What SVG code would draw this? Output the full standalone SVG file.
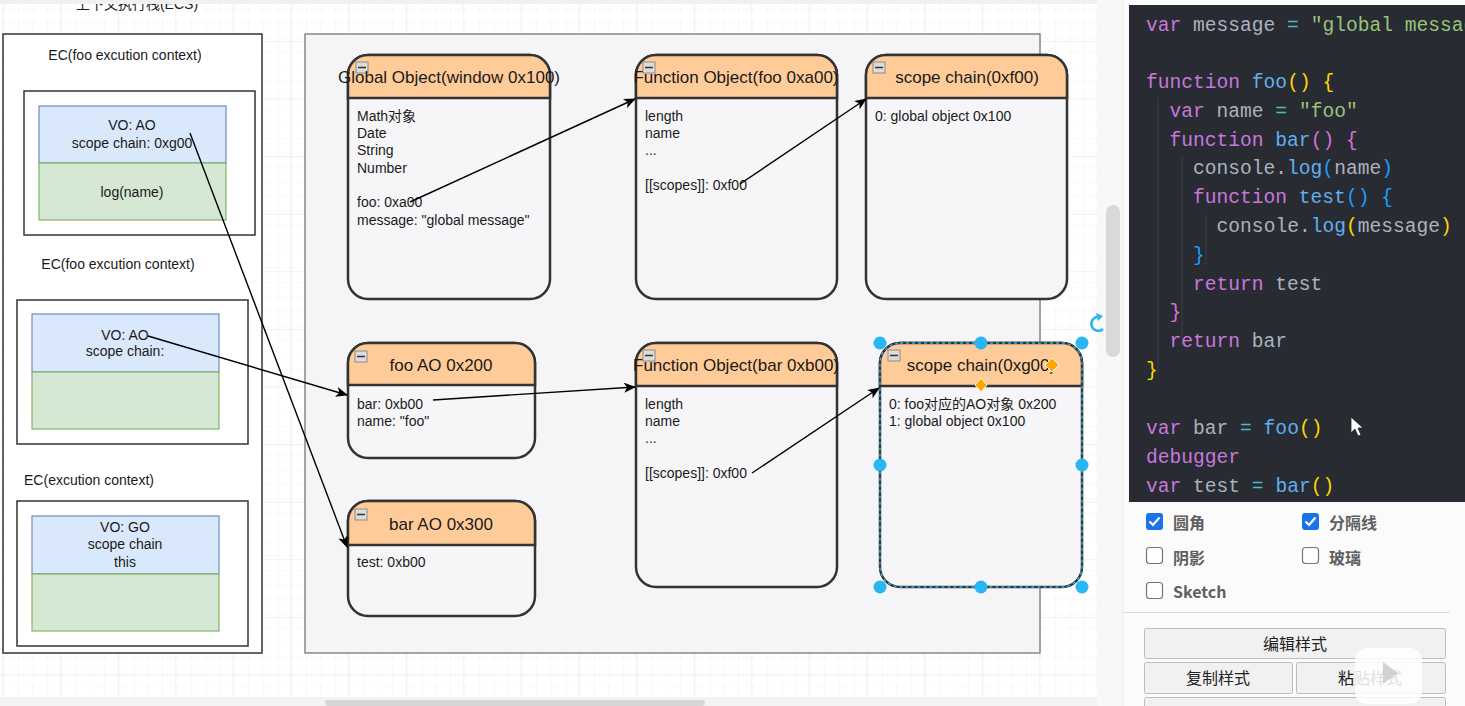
<svg xmlns="http://www.w3.org/2000/svg" width="1465" height="706" viewBox="0 0 1465 706">
<defs>
  <pattern id="minor" width="14.4" height="14.4" patternUnits="userSpaceOnUse" x="2.4" y="12.1">
    <path d="M14.4 0V14.4M0 14.4H14.4" fill="none" stroke="#f2f2f2" stroke-width="1"/>
  </pattern>
  <pattern id="major" width="57.6" height="57.6" patternUnits="userSpaceOnUse" x="2.4" y="40.9">
    <rect width="57.6" height="57.6" fill="url(#minor)"/>
    <path d="M0 0V57.6M0 0H57.6" fill="none" stroke="#e4e4e4" stroke-width="1"/>
  </pattern>
  <marker id="arr" viewBox="0 0 12 10" refX="11" refY="5" markerWidth="12" markerHeight="10" markerUnits="userSpaceOnUse" orient="auto">
    <path d="M0 0L12 5L0 10L3 5Z" fill="#000"/>
  </marker>
  <clipPath id="codeclip"><rect x="1129" y="5" width="336" height="497"/></clipPath>
  <style>
    .t{font-family:"Liberation Sans",Arial,"Noto Sans CJK SC",sans-serif;fill:#1a1a1a}
    .ec{font-size:14px}
    .c{text-anchor:middle}
    .hd{font-size:17px;text-anchor:middle}
    .bd{font-size:14px}
    .frame{fill:#fff;stroke:#333;stroke-width:1.5}
    .vo{fill:#dae8fc;stroke:#6c8ebf;stroke-width:1.2}
    .gr{fill:#d5e8d4;stroke:#82b366;stroke-width:1.2}
    .body{fill:#f6f6f8;stroke:#333;stroke-width:2.5}
    .head{fill:#ffcc99;stroke:#333;stroke-width:2.5}
    .mini{fill:#dcdcdc;stroke:#8a8a8a;stroke-width:1}
    .conn{fill:none;stroke:#000;stroke-width:1.4;marker-end:url(#arr)}
    .code{font-family:"Liberation Mono","DejaVu Sans Mono",monospace;font-size:19.6px;fill:#abb2bf;white-space:pre}
    .k{fill:#c678dd}.f{fill:#61afef}.s{fill:#98c379}.o{fill:#56b6c2}
    .y{fill:#ffd700}.p{fill:#da70d6}.b{fill:#179fff}
    .ui{font-family:"Noto Sans CJK SC","Liberation Sans",sans-serif;font-size:16px}
    .lbl{font-weight:bold;fill:#5f5f5f}
    .btn{fill:#f1f1f1;stroke:#bdbdbd;stroke-width:1}
    .h{fill:#29b6f2}
  </style>
</defs>

<!-- canvas background -->
<rect x="0" y="0" width="1465" height="706" fill="#ffffff"/>
<rect x="0" y="0" width="1097" height="697" fill="url(#major)"/>
<text class="t" x="137" y="9" font-size="14" text-anchor="middle">上下文执行栈(ECS)</text>
<rect x="0" y="0" width="1097" height="4" fill="#f0f0f0"/>
<rect x="0" y="697" width="1097" height="9" fill="#f3f3f3"/>
<rect x="325" y="700" width="380" height="6" rx="3" fill="#d6d6d6"/>

<!-- right side UI background -->
<rect x="1097" y="0" width="26" height="706" fill="#f8f8f8"/>
<rect x="1106" y="205" width="14" height="152" rx="7" fill="#d9d9d9"/>
<path d="M1123 0V706" stroke="#e2e2e2" stroke-width="1"/>
<rect x="1123.5" y="0" width="342" height="706" fill="#fbfbfc"/>

<!-- execution context stack -->
<g id="ecs">
  <rect class="frame" x="3" y="34" width="259" height="619"/>
</g>
<g id="ec-foo-1">
  <text class="t ec c" x="125" y="60">EC(foo excution context)</text>
  <rect class="frame" x="24" y="91" width="231" height="144"/>
  <rect class="vo" x="39" y="106" width="187" height="57"/>
  <rect class="gr" x="39" y="163" width="187" height="57"/>
  <text class="t ec c" x="132" y="130">VO: AO</text>
  <text class="t ec c" x="132" y="148">scope chain: 0xg00</text>
  <text class="t ec c" x="132" y="197">log(name)</text>
</g>
<g id="ec-foo-2">
  <text class="t ec c" x="118" y="269">EC(foo excution context)</text>
  <rect class="frame" x="17" y="300" width="231" height="144"/>
  <rect class="vo" x="32" y="314" width="187" height="58"/>
  <rect class="gr" x="32" y="372" width="187" height="57"/>
  <text class="t ec c" x="125" y="340">VO: AO</text>
  <text class="t ec c" x="125" y="356">scope chain:</text>
</g>
<g id="ec-global">
  <text class="t ec c" x="89" y="485">EC(excution context)</text>
  <rect class="frame" x="17" y="501" width="231" height="145"/>
  <rect class="vo" x="32" y="516" width="187" height="58"/>
  <rect class="gr" x="32" y="574" width="187" height="57"/>
  <text class="t ec c" x="125" y="532">VO: GO</text>
  <text class="t ec c" x="125" y="549">scope chain</text>
  <text class="t ec c" x="125" y="567">this</text>
</g>

<!-- heap container -->
<g id="heap">
  <rect x="305" y="34" width="735" height="619" fill="#f5f5f7" stroke="#6b6b6b" stroke-width="1.2"/>
</g>

<g id="global-object">
  <rect class="body" x="348" y="55" width="202" height="244" rx="20"/>
  <path class="head" d="M348 98V75A20 20 0 0 1 368 55H530A20 20 0 0 1 550 75V98Z"/>
  <rect class="mini" x="356" y="62" width="12" height="11"/><path d="M358 67.5H366" stroke="#333" stroke-width="1.5"/>
  <text class="t hd" x="449" y="83">Global Object(window 0x100)</text>
  <text class="t bd" x="357" y="121">Math对象</text>
  <text class="t bd" x="357" y="138">Date</text>
  <text class="t bd" x="357" y="155">String</text>
  <text class="t bd" x="357" y="173">Number</text>
  <text class="t bd" x="357" y="207">foo: 0xa00</text>
  <text class="t bd" x="357" y="225">message: "global message"</text>
</g>

<g id="function-object-foo">
  <rect class="body" x="636" y="55" width="201" height="244" rx="20"/>
  <path class="head" d="M636 98V75A20 20 0 0 1 656 55H817A20 20 0 0 1 837 75V98Z"/>
  <text class="t hd" x="736" y="83">Function Object(foo 0xa00)</text>
  <rect class="mini" x="643" y="62" width="12" height="11"/><path d="M645 67.5H653" stroke="#333" stroke-width="1.5"/>
  <text class="t bd" x="645" y="121">length</text>
  <text class="t bd" x="645" y="138">name</text>
  <text class="t bd" x="645" y="155">...</text>
  <text class="t bd" x="645" y="190">[[scopes]]: 0xf00</text>
</g>

<g id="scope-chain-f00">
  <rect class="body" x="866" y="55" width="201" height="244" rx="20"/>
  <path class="head" d="M866 98V75A20 20 0 0 1 886 55H1047A20 20 0 0 1 1067 75V98Z"/>
  <rect class="mini" x="873" y="62" width="12" height="11"/><path d="M875 67.5H883" stroke="#333" stroke-width="1.5"/>
  <text class="t hd" x="967" y="83">scope chain(0xf00)</text>
  <text class="t bd" x="875" y="121">0: global object 0x100</text>
</g>

<g id="foo-ao">
  <rect class="body" x="348" y="343" width="187" height="115" rx="20"/>
  <path class="head" d="M348 385V363A20 20 0 0 1 368 343H515A20 20 0 0 1 535 363V385Z"/>
  <rect class="mini" x="355" y="351" width="12" height="11"/><path d="M357 356.5H365" stroke="#333" stroke-width="1.5"/>
  <text class="t hd" x="441" y="371">foo AO 0x200</text>
  <text class="t bd" x="357" y="409">bar: 0xb00</text>
  <text class="t bd" x="357" y="426">name: "foo"</text>
</g>

<g id="bar-ao">
  <rect class="body" x="348" y="501" width="187" height="115" rx="20"/>
  <path class="head" d="M348 545V521A20 20 0 0 1 368 501H515A20 20 0 0 1 535 521V545Z"/>
  <rect class="mini" x="355" y="509" width="12" height="11"/><path d="M357 514.5H365" stroke="#333" stroke-width="1.5"/>
  <text class="t hd" x="441" y="530">bar AO 0x300</text>
  <text class="t bd" x="357" y="567">test: 0xb00</text>
</g>

<g id="function-object-bar">
  <rect class="body" x="636" y="343" width="201" height="244" rx="20"/>
  <path class="head" d="M636 386V363A20 20 0 0 1 656 343H817A20 20 0 0 1 837 363V386Z"/>
  <text class="t hd" x="736" y="371">Function Object(bar 0xb00)</text>
  <rect class="mini" x="643" y="350" width="12" height="11"/><path d="M645 355.5H653" stroke="#333" stroke-width="1.5"/>
  <text class="t bd" x="645" y="409">length</text>
  <text class="t bd" x="645" y="426">name</text>
  <text class="t bd" x="645" y="443">...</text>
  <text class="t bd" x="645" y="478">[[scopes]]: 0xf00</text>
</g>

<g id="scope-chain-g00">
  <rect class="body" x="880" y="343" width="202" height="244" rx="20"/>
  <path class="head" d="M880 386V363A20 20 0 0 1 900 343H1062A20 20 0 0 1 1082 363V386Z"/>
  <rect class="mini" x="888" y="350" width="12" height="11"/><path d="M890 355.5H898" stroke="#333" stroke-width="1.5"/>
  <text class="t hd" x="981" y="371">scope chain(0xg00)</text>
  <text class="t bd" x="889" y="409">0: foo对应的AO对象 0x200</text>
  <text class="t bd" x="889" y="426">1: global object 0x100</text>
  <rect x="880" y="343" width="202" height="244" rx="20" fill="none" stroke="#29b6f2" stroke-width="1.3" stroke-dasharray="3 3"/>
  <circle class="h" cx="880" cy="343" r="6.5"/><circle class="h" cx="981" cy="343" r="6.5"/><circle class="h" cx="1082" cy="343" r="6.5"/>
  <circle class="h" cx="880" cy="465" r="6.5"/><circle class="h" cx="1082" cy="465" r="6.5"/>
  <circle class="h" cx="880" cy="587" r="6.5"/><circle class="h" cx="981" cy="587" r="6.5"/><circle class="h" cx="1082" cy="587" r="6.5"/>
  <path d="M981 378L987 385L981 392L975 385Z" fill="#ffa500" stroke="#fff" stroke-width="1"/>
  <path d="M1052 358L1059 365L1052 372L1045 365Z" fill="#ffa500" stroke="#fff" stroke-width="1"/>
  <path d="M1100 317A7 7 0 1 0 1103 329" fill="none" stroke="#29b6f2" stroke-width="2.5"/>
  <path d="M1096 313L1103 316L1098 321Z" fill="#29b6f2"/>
</g>

<!-- connectors -->
<g id="connectors">
  <path class="conn" d="M190 133L347 547"/>
  <path class="conn" d="M148 336L347 395"/>
  <path class="conn" d="M410 202L635 99"/>
  <path class="conn" d="M740 184L866 99"/>
  <path class="conn" d="M433 400L635 387"/>
  <path class="conn" d="M752 473L879 388"/>
</g>

<g id="code">
  <rect x="1129" y="5" width="336" height="497" fill="#292b32"/>
  <g clip-path="url(#codeclip)" class="code">
    <path d="M1158 98V373M1182 156V346M1206 214V265" stroke="#3b3e46" stroke-width="1"/>
    <text x="1146" y="31"><tspan class="k">var</tspan><tspan> message </tspan><tspan class="o">=</tspan><tspan> </tspan><tspan class="s">"global message"</tspan></text>
    <text x="1146" y="88"><tspan class="k">function</tspan><tspan> </tspan><tspan class="f">foo</tspan><tspan class="y">()</tspan><tspan> </tspan><tspan class="y">{</tspan></text>
    <text x="1169.5" y="117"><tspan class="k">var</tspan><tspan> name </tspan><tspan class="o">=</tspan><tspan> </tspan><tspan class="s">"foo"</tspan></text>
    <text x="1169.5" y="146"><tspan class="k">function</tspan><tspan> </tspan><tspan class="f">bar</tspan><tspan class="p">()</tspan><tspan> </tspan><tspan class="p">{</tspan></text>
    <text x="1193" y="174">console.<tspan class="f">log</tspan><tspan class="b">(</tspan>name<tspan class="b">)</tspan></text>
    <text x="1193" y="203"><tspan class="k">function</tspan><tspan> </tspan><tspan class="f">test</tspan><tspan class="b">()</tspan><tspan> </tspan><tspan class="b">{</tspan></text>
    <text x="1216.6" y="232">console.<tspan class="f">log</tspan><tspan class="y">(</tspan>message<tspan class="y">)</tspan></text>
    <text x="1193" y="261"><tspan class="b">}</tspan></text>
    <text x="1193" y="290"><tspan class="k">return</tspan><tspan> test</tspan></text>
    <text x="1169.5" y="318"><tspan class="p">}</tspan></text>
    <text x="1169.5" y="347"><tspan class="k">return</tspan><tspan> bar</tspan></text>
    <text x="1146" y="376"><tspan class="y">}</tspan></text>
    <text x="1146" y="434"><tspan class="k">var</tspan><tspan> bar </tspan><tspan class="o">=</tspan><tspan> </tspan><tspan class="f">foo</tspan><tspan class="y">()</tspan></text>
    <text x="1146" y="463"><tspan class="k">debugger</tspan></text>
    <text x="1146" y="492"><tspan class="k">var</tspan><tspan> test </tspan><tspan class="o">=</tspan><tspan> </tspan><tspan class="f">bar</tspan><tspan class="y">()</tspan></text>
  </g>
  <path d="M1351 417V433L1355 429L1358 436L1361 435L1358 428H1363Z" fill="#fff" stroke="#222" stroke-width="0.8"/>
</g>

<g id="style-panel">
  <rect x="1146" y="513" width="17" height="17" rx="3" fill="#1a73e8"/>
  <path d="M1149.5 521.5L1153 525L1159.5 517.5" fill="none" stroke="#fff" stroke-width="2.2"/>
  <text class="ui lbl" x="1173" y="529">圆角</text>
  <rect x="1302" y="513" width="17" height="17" rx="3" fill="#1a73e8"/>
  <path d="M1305.5 521.5L1309 525L1315.5 517.5" fill="none" stroke="#fff" stroke-width="2.2"/>
  <text class="ui lbl" x="1329" y="529">分隔线</text>
  <rect x="1146.5" y="547.5" width="16" height="16" rx="3" fill="#fff" stroke="#767676" stroke-width="1.2"/>
  <text class="ui lbl" x="1173" y="564">阴影</text>
  <rect x="1302.5" y="547.5" width="16" height="16" rx="3" fill="#fff" stroke="#767676" stroke-width="1.2"/>
  <text class="ui lbl" x="1329" y="564">玻璃</text>
  <rect x="1146.5" y="582.5" width="16" height="16" rx="3" fill="#fff" stroke="#767676" stroke-width="1.2"/>
  <text class="ui lbl" x="1173" y="598">Sketch</text>
  <path d="M1123 612.5H1450" stroke="#dcdcdc" stroke-width="1"/>
  <rect class="btn" x="1144.5" y="628.5" width="301" height="30" rx="2"/>
  <text class="ui" x="1295" y="650" text-anchor="middle" fill="#222">编辑样式</text>
  <rect class="btn" x="1144.5" y="662.5" width="148" height="31" rx="2"/>
  <text class="ui" x="1218" y="684" text-anchor="middle" fill="#222">复制样式</text>
  <rect class="btn" x="1296.5" y="662.5" width="149" height="31" rx="2"/>
  <text class="ui" x="1370" y="684" text-anchor="middle" fill="#222">粘贴样式</text>
  <rect class="btn" x="1144.5" y="697.5" width="301" height="20" rx="2"/>
  <rect x="1355" y="648" width="67" height="56" rx="12" fill="#ffffff" fill-opacity="0.85"/>
  <path d="M1383 662L1398 673L1383 684Z" fill="#c8c8c8" fill-opacity="0.8"/>
</g>
</svg>
